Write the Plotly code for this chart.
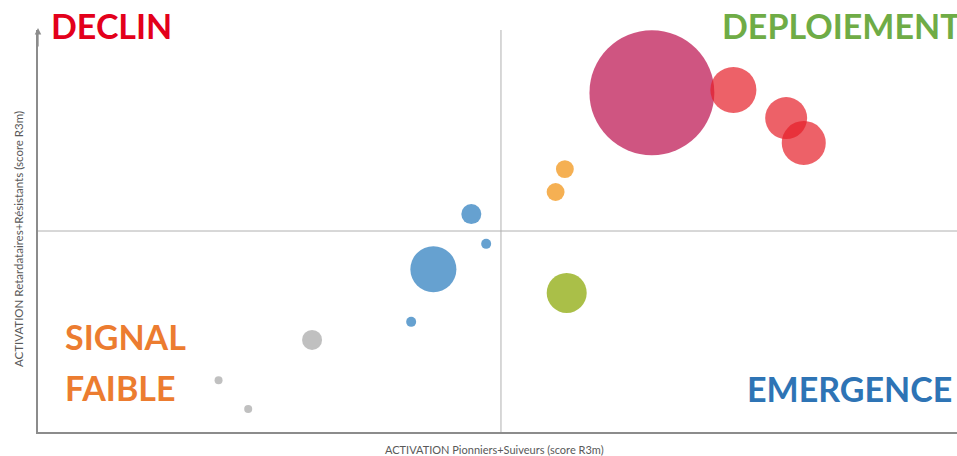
import plotly.graph_objects as go

# ---- data ----
x_vals = [66.3, 75.1, 80.8, 82.7, 56.9, 55.9, 46.8, 48.4, 42.7, 57.1, 40.3, 29.6, 19.5, 22.7]
y_vals = [84.4, 85.1, 78.1, 71.9, 65.4, 59.7, 54.2, 46.8, 40.5, 34.6, 27.4, 22.9, 12.9, 5.7]
volumes = [1560, 212, 176, 194, 32, 32, 40, 10, 212, 160, 10, 40, 6.4, 6.4]
groups = ["magenta", "rouge", "rouge", "rouge", "orange", "orange", "bleu", "bleu",
          "bleu", "vert", "bleu", "gris", "gris", "gris"]

group_order = ["magenta", "rouge", "orange", "vert", "bleu", "gris"]
group_colors = {
    "magenta": "rgba(200,62,112,0.88)",
    "rouge": "rgba(230,30,40,0.7)",
    "orange": "rgba(243,156,40,0.8)",
    "vert": "rgba(155,180,40,0.85)",
    "bleu": "rgba(75,145,200,0.85)",
    "gris": "rgba(165,165,165,0.7)",
}

quadrant_labels = ["DECLIN", "DEPLOIEMENT", "SIGNAL", "FAIBLE", "EMERGENCE"]
x_title = "ACTIVATION Pionniers+Suiveurs (score R3m)"
y_title = "ACTIVATION Retardataires+Résistants (score R3m)"
x_mid = 50
y_mid = 50

fig = go.Figure()
for g in group_order:
    idx = [i for i, gg in enumerate(groups) if gg == g]
    fig.add_trace(go.Scatter(
        x=[x_vals[i] for i in idx],
        y=[y_vals[i] for i in idx],
        mode="markers",
        marker=dict(size=[volumes[i] for i in idx], sizemode="area", sizeref=0.2,
                    opacity=1, color=group_colors[g], line=dict(width=0)),
        showlegend=False, hoverinfo="skip",
    ))

axis_grey = "#8c8c8c"
fig.add_shape(type="line", xref="x", yref="paper", x0=x_mid, x1=x_mid, y0=0, y1=1,
              line=dict(color="#b0b0b0", width=1), layer="below")
fig.add_shape(type="line", xref="paper", yref="y", x0=0, x1=1, y0=y_mid, y1=y_mid,
              line=dict(color="#b0b0b0", width=1), layer="below")

# y axis arrow
fig.add_annotation(xref="paper", yref="paper", x=0, y=1.005, ax=0, ay=20,
                   showarrow=True, arrowhead=2, arrowsize=1, arrowwidth=1.3,
                   arrowcolor=axis_grey, text="")

label_font = "Lato, 'Open Sans', sans-serif"
label_specs = [
    (quadrant_labels[0], 0.08, 1.012, "center", "#e3001b"),
    (quadrant_labels[1], 0.742, 1.012, "left", "#6fac46"),
    (quadrant_labels[2], 0.027, 0.237, "left", "#ec7c30"),
    (quadrant_labels[3], 0.027, 0.11, "left", "#ec7c30"),
    (quadrant_labels[4], 0.769, 0.109, "left", "#2e74b5"),
]
for txt, xp, yp, xa, col in label_specs:
    fig.add_annotation(xref="paper", yref="paper", x=xp, y=yp, xanchor=xa, yanchor="middle",
                       text="<b>" + txt + "</b>", showarrow=False,
                       font=dict(family=label_font, size=34, color=col))

title_font = dict(family="Lato, 'Open Sans', sans-serif", size=11, color="#595959")
fig.add_annotation(xref="paper", yref="paper", x=0.497, y=0, yshift=-9, xanchor="center",
                   yanchor="top", text=x_title, showarrow=False, font=title_font)
fig.add_annotation(xref="paper", yref="paper", x=0, y=0.48, xshift=-20, xanchor="center",
                   yanchor="middle", text=y_title, textangle=-90, showarrow=False,
                   font=dict(family="Lato, 'Open Sans', sans-serif", size=11.5, color="#595959"))

fig.update_xaxes(range=[0, 99.25], showgrid=False, zeroline=False, showticklabels=False,
                 ticks="", showline=True, linecolor=axis_grey, linewidth=1.5)
fig.update_yaxes(range=[0, 100], showgrid=False, zeroline=False, showticklabels=False,
                 ticks="", showline=True, linecolor=axis_grey, linewidth=1.5)
fig.update_layout(width=957, height=456, margin=dict(l=38, r=0, t=30, b=24),
                  plot_bgcolor="white", paper_bgcolor="white")

fig.write_html("out.html")
